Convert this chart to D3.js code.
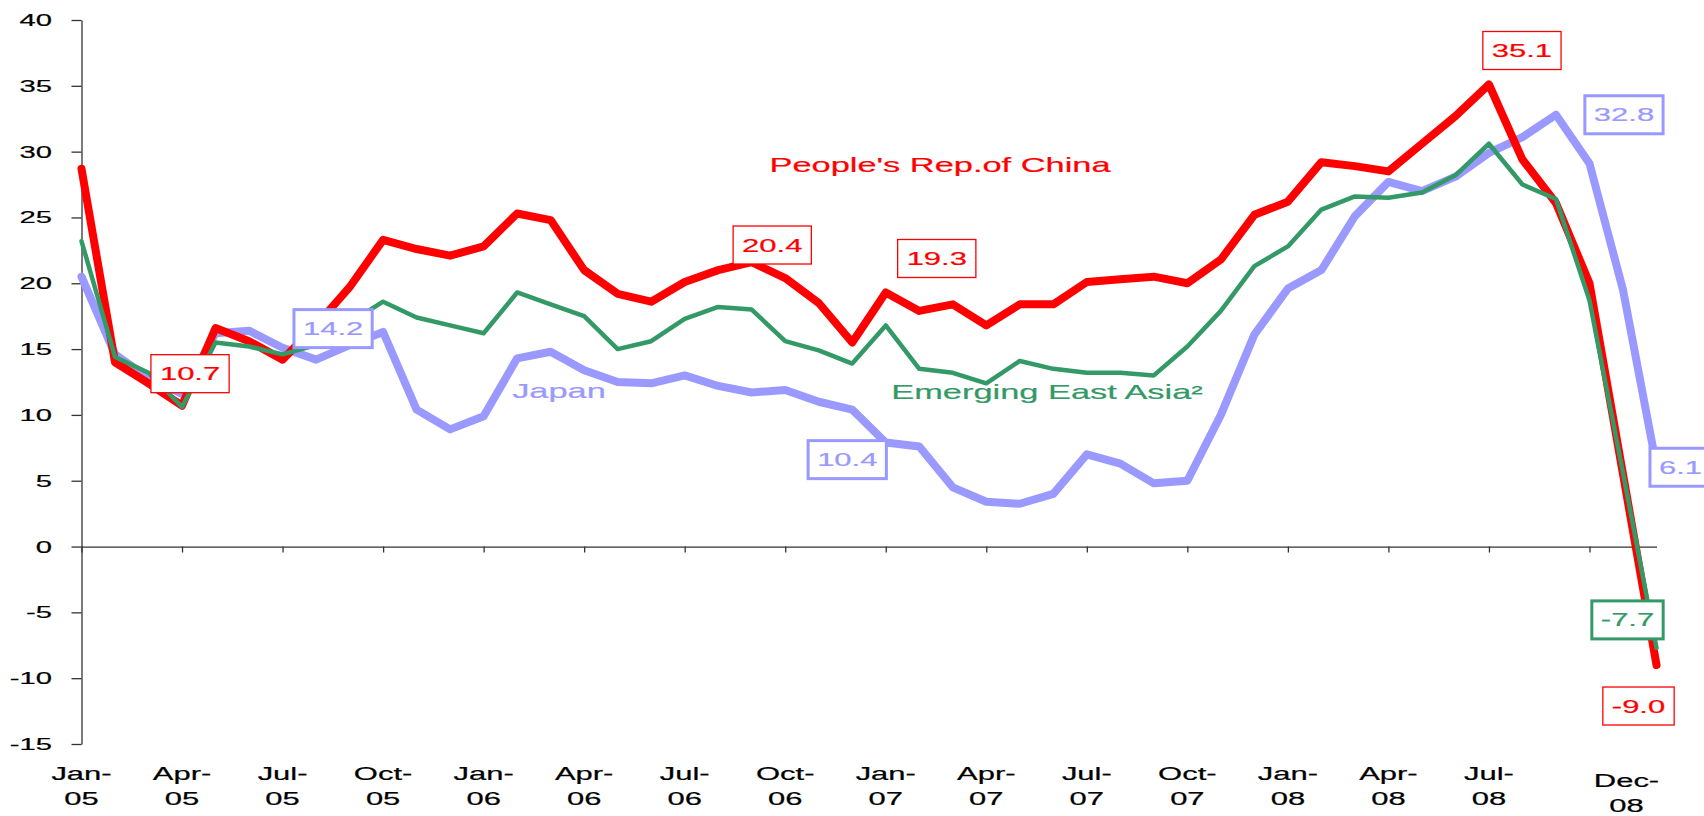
<!DOCTYPE html>
<html>
<head>
<meta charset="utf-8">
<script src="https://cdn.jsdelivr.net/npm/d3@7/dist/d3.min.js"></script>
<style>
  body { margin: 0; background: #fff; }
  text { font-family: "Liberation Sans", Arial, sans-serif; }
</style>
</head>
<body>
<svg id="chart" width="1704" height="816"></svg>
<script>
// monthly growth, Jan-05 .. Dec-08
let china = [28.7, 14.0, 12.4, 10.7, 16.6, 15.6, 14.2, 16.8, 19.7, 23.3, 22.6, 22.1,
             22.8, 25.3, 24.8, 21.0, 19.2, 18.6, 20.1, 21.0, 21.6, 20.4, 18.5, 15.5,
             19.3, 17.9, 18.4, 16.8, 18.4, 18.4, 20.1, 20.3, 20.5, 20.0, 21.8, 25.2,
             26.2, 29.2, 28.9, 28.5, 30.6, 32.7, 35.1, 29.4, 26.1, 20.0, 5.5, -9.0]
let japan = [20.5, 14.6, 12.8, 11.6, 16.2, 16.4, 15.1, 14.2, 15.3, 16.3, 10.4, 8.9,
             9.9, 14.3, 14.8, 13.4, 12.5, 12.4, 13.0, 12.2, 11.7, 11.9, 11.0, 10.4,
             7.9, 7.6, 4.5, 3.4, 3.25, 4.0, 7.0, 6.3, 4.8, 5.0, 10.0, 16.1,
             19.6, 21.0, 25.1, 27.7, 27.0, 28.1, 29.9, 31.1, 32.8, 29.1, 19.5, 6.1]
let eastAsia = [23.2, 14.4, 13.2, 10.6, 15.5, 15.2, 14.6, 15.3, 17.0, 18.6, 17.4, 16.8,
                16.2, 19.3, 18.4, 17.5, 15.0, 15.6, 17.3, 18.2, 18.0, 15.6, 14.9, 13.9,
                16.8, 13.5, 13.2, 12.4, 14.1, 13.5, 13.2, 13.2, 13.0, 15.2, 17.9, 21.3,
                22.8, 25.6, 26.6, 26.5, 26.9, 28.2, 30.6, 27.5, 26.4, 18.7, 5.6, -7.7]

let tickLabels = ["Jan-05", "Apr-05", "Jul-05", "Oct-05", "Jan-06", "Apr-06", "Jul-06", "Oct-06",
                  "Jan-07", "Apr-07", "Jul-07", "Oct-07", "Jan-08", "Apr-08", "Jul-08"]
let lastLabel = "Dec-08"
let yTicks = [-15, -10, -5, 0, 5, 10, 15, 20, 25, 30, 35, 40]

const SX = 1.72   // the original chart text is stretched sideways
const RED = "#ff0000", BLUE = "#9999ff", GREEN = "#339966"

let svg = d3.select("#chart")
svg.append("rect").attr("width", 1704).attr("height", 816).attr("fill", "#fff")

let x = d3.scaleLinear().domain([0, china.length - 1]).range([81.5, 1656.5])
let y = d3.scaleLinear().domain([-15, 40]).range([744, 20])

function stretched(sel, px, py, txt, size, color, anchor) {
    return sel.append("text")
        .attr("transform", "translate(" + px + "," + py + ") scale(" + SX + ",1)")
        .attr("text-anchor", anchor || "middle")
        .attr("font-size", size)
        .attr("fill", color)
        .attr("stroke", color)
        .attr("stroke-width", 0.2)
        .text(txt)
}

// axes
let yAxis = svg.append("g")
    .attr("transform", "translate(" + x(0) + ",0)")
    .call(d3.axisLeft(y).tickValues(yTicks).tickSize(10).tickSizeOuter(0).tickFormat(""))
let xAxis = svg.append("g")
    .attr("transform", "translate(0," + y(0) + ")")
    .call(d3.axisBottom(x).tickValues(d3.range(0, 46, 3)).tickSize(6).tickSizeOuter(0).tickFormat(""))
svg.selectAll(".domain, .tick line").attr("stroke", "#333").attr("stroke-width", 1.3)

yTicks.forEach(function(t) {
    stretched(svg, 52, y(t) + 6, t, 17, "#000", "end")
})
tickLabels.forEach(function(l, i) {
    let parts = l.split("-")
    stretched(svg, x(i * 3), y(-15) + 36, parts[0] + "-", 18, "#000")
    stretched(svg, x(i * 3), y(-15) + 61, parts[1], 18, "#000")
})
let lp = lastLabel.split("-")
stretched(svg, x(47) - 30, y(-15) + 43, lp[0] + "-", 18, "#000")
stretched(svg, x(47) - 30, y(-15) + 68, lp[1], 18, "#000")

// lines
let line = d3.line().x(function(d, i) { return x(i) }).y(function(d) { return y(d) })
let series = [
    {values: japan, color: BLUE, width: 8},
    {values: china, color: RED, width: 8},
    {values: eastAsia, color: GREEN, width: 4.5}
]
series.forEach(function(s) {
    svg.append("path")
        .datum(s.values)
        .attr("d", line)
        .attr("fill", "none")
        .attr("stroke", s.color)
        .attr("stroke-width", s.width)
        .attr("stroke-linejoin", "round")
        .attr("stroke-linecap", "round")
})

// series names
stretched(svg, 940, 172, "People's Rep.of China", 20, RED)
stretched(svg, 559, 398, "Japan", 20, BLUE)
stretched(svg, 1047, 399, "Emerging East Asia\u00b2", 20, GREEN)

// value boxes
let notes = [
    {data: china, i: 3, dx: 8, dy: -32, color: RED, border: 1.3},
    {data: japan, i: 7, dx: 17, dy: -31, color: BLUE, border: 3},
    {data: china, i: 21, dx: -13, dy: -33, color: RED, border: 1.3},
    {data: china, i: 24, dx: 51, dy: -34, color: RED, border: 1.3},
    {data: japan, i: 23, dx: -5, dy: 50, color: BLUE, border: 3},
    {data: china, i: 42, dx: 33, dy: -34, color: RED, border: 1.3},
    {data: japan, i: 44, dx: 68, dy: 0, color: BLUE, border: 3},
    {data: japan, i: 47, dx: 24, dy: 1, color: BLUE, border: 3},
    {data: eastAsia, i: 47, dx: -29, dy: -28, color: GREEN, border: 3},
    {data: china, i: 47, dx: -18, dy: 41, color: RED, border: 1.3}
]
notes.forEach(function(n) {
    let v = n.data[n.i]
    let g = svg.append("g")
        .attr("transform", "translate(" + (x(n.i) + n.dx) + "," + (y(v) + n.dy) + ")")
    let rect = g.append("rect")
    let t = stretched(g, 0, 6.5, v.toFixed(1), 18, n.color)
    let w = t.node().getComputedTextLength() * SX + 18
    rect.attr("x", -w / 2).attr("y", -19).attr("width", w).attr("height", 38)
        .attr("fill", "#fff").attr("stroke", n.color).attr("stroke-width", n.border)
})
</script>
</body>
</html>
